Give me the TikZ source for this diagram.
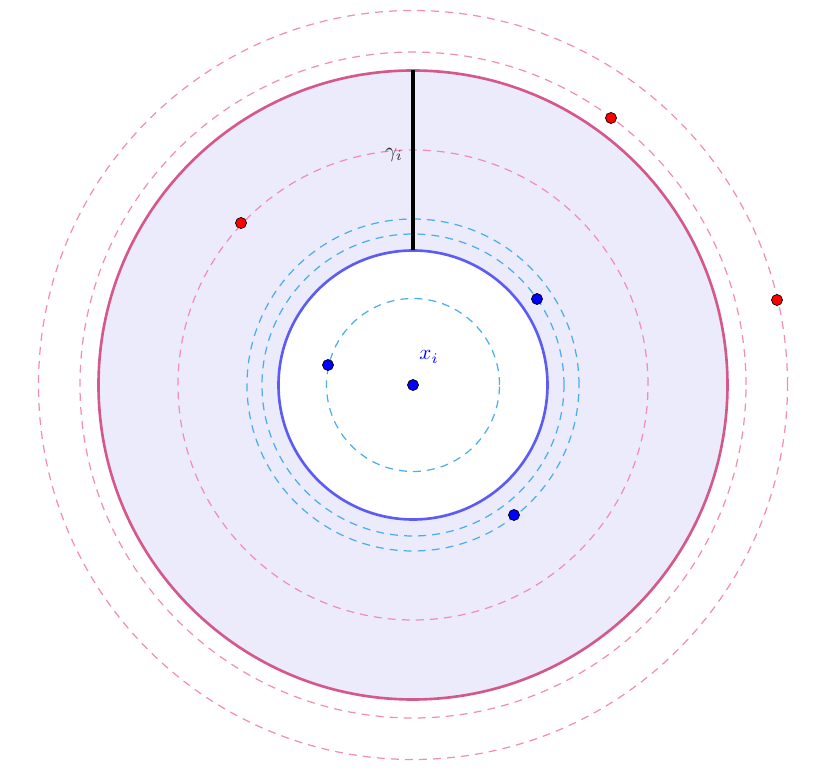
\documentclass[tikz,border=0pt]{standalone}
\usepackage{amsmath,amssymb}
\usepackage{tikz}
\usetikzlibrary{arrows, backgrounds, positioning}

\definecolor{annfill}{HTML}{EBEBFC}
\definecolor{annedge}{HTML}{D4588A}
\definecolor{pinkdash}{HTML}{F28DB8}
\definecolor{bluedisk}{HTML}{5C5CF5}
\definecolor{bluedash}{HTML}{4BAEEC}

\begin{document}
\begin{tikzpicture}[x=0.02cm, y=0.02cm]
    \tikzstyle{pinkring}=[pinkdash, dash pattern=on 4.5pt off 3.5pt, line width=0.7pt]
    \tikzstyle{bluering}=[bluedash, dash pattern=on 4.5pt off 3.5pt, line width=0.7pt]
    \tikzstyle{reddot}=[circle, fill=red, draw=black, line width=0.4pt, inner sep=0pt, minimum size=0.22cm]
    \tikzstyle{bluedot}=[circle, fill=blue, draw=black, line width=0.4pt, inner sep=0pt, minimum size=0.22cm]
    \tikzstyle{lab}=[scale=1.2]

\useasboundingbox (-413,-389) rectangle (423,385);

% annulus
\fill[annfill, even odd rule] (0,0) circle (314.5) (0,0) circle (134.5);
\draw[annedge, line width=1.5pt] (0,0) circle (314.5);
\draw[bluedisk, line width=1.5pt] (0,0) circle (134.5);

% dashed rings
\draw[pinkring] (0,0) circle (235);
\draw[pinkring] (0,0) circle (333);
\draw[pinkring] (0,0) circle (374.5);
\draw[bluering] (0,0) circle (86.5);
\draw[bluering] (0,0) circle (151);
\draw[bluering] (0,0) circle (166);

% cut
\coordinate (top) at (0,314.5);
\coordinate (bot) at (0,134.5);
\draw[black, line width=2pt] (top) -- (bot);
\node[lab, text=black!80] (gamma) at (-19,230) {$\gamma_i$};

% points
\node[bluedot] (x) at (0,0) {};
\node[lab, text=blue] (xlab) at (16,28) {$x_i$};
\node[bluedot] (b1) at (-85,20) {};
\node[bluedot] (b2) at (124,86) {};
\node[bluedot] (b3) at (101,-130) {};
\node[reddot] (r1) at (-172,162) {};
\node[reddot] (r2) at (198,267) {};
\node[reddot] (r3) at (364,85) {};
\end{tikzpicture}
\end{document}
